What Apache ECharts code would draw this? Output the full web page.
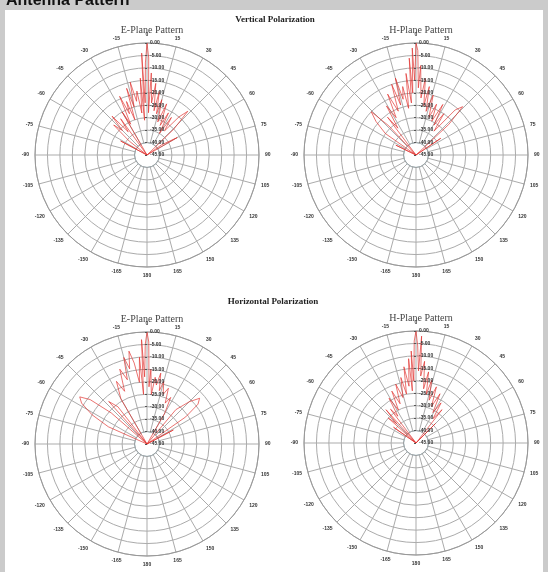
<!DOCTYPE html>
<html>
<head>
<meta charset="utf-8">
<title>Antenna Pattern</title>
<script src="https://cdn.jsdelivr.net/npm/echarts@6/dist/echarts.min.js"></script>
<style>
html, body { margin: 0; padding: 0; background: #cbcbcb; }
#chart { width: 548px; height: 572px; }
</style>
</head>
<body>
<div id="chart"></div>
<script>
// radiation patterns: [angle (deg, clockwise from boresight), gain (dB)]
const vertE = [[-180,-45],[-90,-45],[-66,-45],[-62,-33],[-59,-45],[-52,-36],[-48,-27],[-45,-31],[-42,-24],[-39,-33],[-36,-27],[-33,-45],[-30,-25],[-28,-31],[-25,-19],[-23,-27],[-21,-22],[-19,-30],[-17,-17],[-15,-25],[-13,-15],[-11,-23],[-9,-19],[-7,-28],[-5,-14],[-4,-31],[-3,-4],[-2,-24],[-1,-8],[0,0],[1,-6],[2,-28],[3,-12],[5,-24],[7,-16],[9,-27],[11,-19],[13,-28],[15,-22],[18,-31],[21,-23],[24,-32],[27,-26],[30,-35],[33,-27],[36,-33],[40,-25],[43,-21],[46,-30],[50,-45],[55,-38],[60,-31],[63,-45],[90,-45],[180,-45]];
const vertH = [[-180,-45],[-90,-45],[-70,-45],[-64,-36],[-60,-45],[-55,-30],[-50,-24],[-46,-20],[-43,-29],[-40,-45],[-37,-26],[-34,-32],[-31,-22],[-28,-28],[-25,-18],[-22,-26],[-19,-15],[-17,-24],[-15,-13],[-13,-22],[-11,-17],[-9,-26],[-7,-12],[-5,-24],[-4,-6],[-3,-20],[-2,-2],[-1,-15],[0,0],[1,-3],[2,-18],[3,-9],[5,-22],[7,-14],[9,-25],[11,-17],[13,-27],[16,-20],[19,-29],[22,-23],[25,-30],[28,-22],[31,-31],[34,-25],[37,-33],[41,-21],[44,-18],[47,-27],[51,-45],[56,-33],[60,-45],[90,-45],[180,-45]];
const horE = [[-180,-45],[-90,-45],[-72,-45],[-66,-28],[-62,-20],[-58,-14],[-55,-12],[-52,-16],[-49,-26],[-46,-45],[-42,-22],[-38,-26],[-35,-45],[-30,-24],[-26,-17],[-23,-22],[-20,-13],[-17,-18],[-15,-9],[-13,-14],[-11,-7],[-9,-12],[-7,-20],[-5,-10],[-4,-25],[-3,-3],[-2,-18],[-1,-5],[0,0],[1,-4],[2,-22],[3,-15],[5,-25],[7,-18],[9,-21],[11,-16],[13,-23],[15,-19],[18,-24],[21,-21],[24,-27],[27,-24],[30,-31],[34,-45],[40,-27],[45,-21],[49,-17],[52,-19],[55,-26],[58,-45],[62,-33],[66,-45],[90,-45],[180,-45]];
const horH = [[-180,-45],[-90,-45],[-60,-45],[-55,-34],[-52,-45],[-48,-30],[-45,-34],[-42,-27],[-40,-45],[-37,-28],[-34,-32],[-31,-24],[-28,-30],[-25,-22],[-22,-28],[-19,-20],[-16,-26],[-13,-18],[-11,-25],[-9,-14],[-7,-22],[-5,-11],[-4,-24],[-3,-8],[-2,-20],[-1,-4],[0,0],[1,-6],[2,-16],[3,-2],[4,-18],[6,-12],[8,-23],[10,-16],[12,-25],[14,-19],[17,-27],[20,-21],[23,-29],[26,-23],[29,-31],[32,-26],[35,-33],[38,-28],[41,-45],[45,-34],[48,-45],[90,-45],[180,-45]];

const dbMin = -45;
const dbMax = 0;
const dbStep = 5;
const angleStep = 15;

const plots = [
	{ name: 'E-Plane Pattern', data: vertE, center: [147, 155] },
	{ name: 'H-Plane Pattern', data: vertH, center: [416, 155] },
	{ name: 'E-Plane Pattern', data: horE, center: [147, 444] },
	{ name: 'H-Plane Pattern', data: horH, center: [416, 443] }
];
const R = 112;
const hole = R / ((dbMax - dbMin) / dbStep);
const gridColor = '#ababab';

const polar = [], angleAxis = [], radiusAxis = [], series = [], title = [];
plots.forEach((p, i) => {
	// grid polar (with the empty hole in the middle)
	polar.push({ center: p.center, radius: [hole, R] });
	angleAxis.push({
		polarIndex: 2 * i, min: 0, max: 360, interval: angleStep,
		startAngle: 90, clockwise: true,
		axisLine: { lineStyle: { color: '#999', width: 1 } },
		axisTick: { show: false },
		axisLabel: {
			fontSize: 5, color: '#333', fontWeight: 'bold', margin: 6,
			formatter: v => v === 360 ? '' : String(v > 180 ? v - 360 : v)
		},
		splitLine: { lineStyle: { color: gridColor, width: 1 } }
	});
	radiusAxis.push({
		polarIndex: 2 * i, min: dbMin + dbStep, max: dbMax, interval: dbStep,
		axisLine: { show: false }, axisTick: { show: false }, axisLabel: { show: false },
		splitLine: { lineStyle: { color: ['#b8dbe8', gridColor, gridColor, gridColor, gridColor, gridColor, gridColor, gridColor, gridColor], width: 1 } }
	});
	// data polar (full radius, dB scale down to the floor)
	polar.push({ center: p.center, radius: [0, R] });
	angleAxis.push({ polarIndex: 2 * i + 1, min: 0, max: 360, startAngle: 90, clockwise: true, show: false });
	radiusAxis.push({
		polarIndex: 2 * i + 1, min: dbMin, max: dbMax, interval: dbStep, z: 5,
		axisLine: { show: false },
		axisTick: { show: true, length: 2, lineStyle: { color: '#555' } },
		axisLabel: {
			fontSize: 5, color: '#333', fontWeight: 'bold', margin: -3, align: 'left',
			formatter: v => v.toFixed(2)
		},
		splitLine: { show: false }
	});
	series.push({
		type: 'line', coordinateSystem: 'polar', polarIndex: 2 * i + 1,
		showSymbol: false, symbol: 'none', clip: false, z: 3,
		lineStyle: { color: '#e0302c', width: 0.8, opacity: 0.85 },
		data: p.data.map(d => [d[1], d[0]])
	});
	title.push({
		text: p.name, left: p.center[0], top: p.center[1] - 135, textAlign: 'center',
		textStyle: { fontFamily: 'Liberation Serif', fontSize: 10, fontWeight: 'normal', color: '#444' }
	});
});
title.push({
	text: 'Vertical Polarization', left: 270, top: 10, textAlign: 'center',
	textStyle: { fontFamily: 'Liberation Serif', fontSize: 9, fontWeight: 'bold', color: '#222' }
});
title.push({
	text: 'Horizontal Polarization', left: 268, top: 292, textAlign: 'center',
	textStyle: { fontFamily: 'Liberation Serif', fontSize: 9, fontWeight: 'bold', color: '#222' }
});

const chart = echarts.init(document.getElementById('chart'));
chart.setOption({
	backgroundColor: '#cbcbcb',
	animation: false,
	graphic: [
		{ type: 'rect', shape: { x: 5, y: 10, width: 538, height: 562 }, style: { fill: '#fff' }, z: -10 },
		{ type: 'text', x: 6, y: -7, style: { text: 'Antenna Pattern', font: 'bold 16px Liberation Sans', fill: '#111' }, z: -5 }
	],
	title: title,
	polar: polar,
	angleAxis: angleAxis,
	radiusAxis: radiusAxis,
	series: series
});
</script>
</body>
</html>
